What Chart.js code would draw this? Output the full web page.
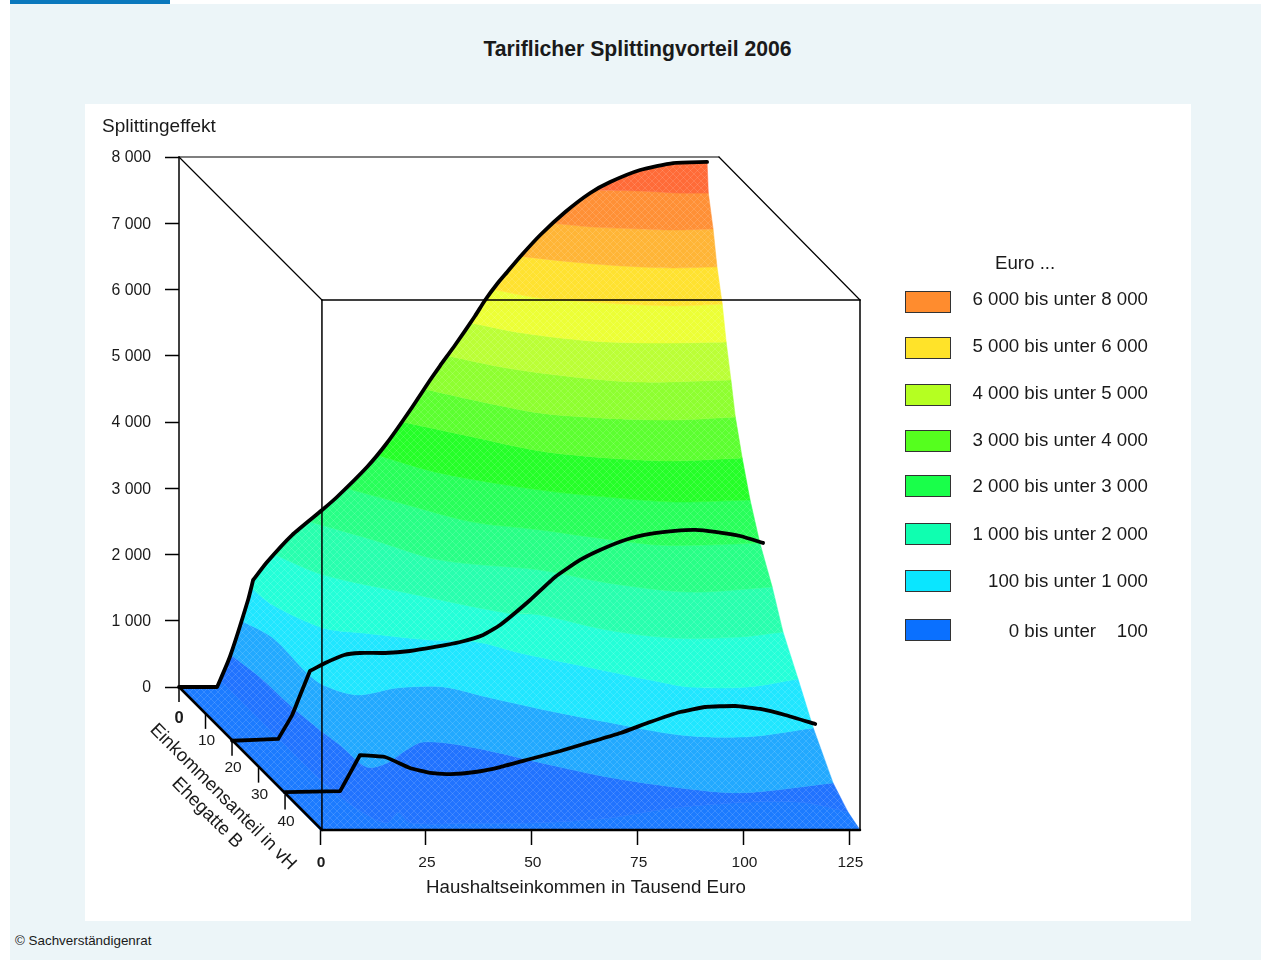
<!DOCTYPE html>
<html lang="de">
<head>
<meta charset="utf-8">
<title>Tariflicher Splittingvorteil 2006</title>
<script src="https://cdn.jsdelivr.net/npm/chart.js@4"></script>
<style>
    html, body { margin: 0; padding: 0; background: #fff; }
    body { width: 1261px; height: 960px; position: relative; overflow: hidden; font-family: "Liberation Sans", Arial, sans-serif; color: #1a1a1a; }
    #strip { position: absolute; left: 10px; top: 0; width: 160px; height: 4px; background: #0a78bd; }
    #panel { position: absolute; left: 10px; top: 4px; right: 0; bottom: 0; background: #ecf5f8; }
    #white { position: absolute; left: 85px; top: 104px; width: 1106px; height: 817px; background: #fff; }
    #chart { position: absolute; left: 85px; top: 104px; }
    #title { position: absolute; left: 10px; width: 1255px; top: 36px; text-align: center; font-size: 21.2px; font-weight: bold; line-height: 26px; }
    #source { position: absolute; left: 15px; top: 933px; font-size: 13.4px; line-height: 16px; }
    #euro { position: absolute; left: 995px; top: 252px; font-size: 18.7px; line-height: 22px; }
    .swatch { position: absolute; left: 905px; width: 44px; height: 20px; border: 1px solid #333; }
    .entry { position: absolute; right: 113px; font-size: 18.7px; line-height: 22px; white-space: pre; }
</style>
</head>
<body>
<div id="strip"></div>
<div id="panel"></div>
<div id="white"></div>
<canvas id="chart" width="1106" height="817"></canvas>
<div id="title">Tariflicher Splittingvorteil 2006</div>
<div id="source">© Sachverständigenrat</div>
<div id="euro">Euro ...</div>
<script>
// Axis ticks
const incomeTicks = [0, 25, 50, 75, 100, 125];
const shareTicks = [0, 10, 20, 30, 40];
const effectTicks = [0, 1000, 2000, 3000, 4000, 5000, 6000, 7000, 8000];

// Legend
const legendLabels = ['6 000 bis unter 8 000', '5 000 bis unter 6 000', '4 000 bis unter 5 000', '3 000 bis unter 4 000',
    '2 000 bis unter 3 000', '1 000 bis unter 2 000', '100 bis unter 1 000', '0 bis unter    100'];
const legendColors = ['#ff8c2e', '#ffe329', '#b5ff21', '#55ff1e', '#19ff4a', '#0fffb0', '#0ae6ff', '#0a70ff'];
const legendSwatchY = [302, 348, 395, 441, 486, 534, 581, 630];
const legendTextY = [299, 346, 393, 440, 486, 534, 581, 631];

// Black profile lines: share of spouse B 0, 20 and 40 vH
const profile0Income = [0, 9, 12, 16.3, 17.5, 20.8, 26.7, 33.8, 37.3, 44.4, 49.1, 54.6, 59.3, 61.6, 65.2, 69.9, 72.3, 75.1, 77.5, 80.5, 85.3, 91.2, 97.1, 101.8, 108.9, 116.7, 124.7];
const profile0Effect = [0, 0, 453, 1313, 1615, 1887, 2294, 2672, 2868, 3321, 3683, 4181, 4634, 4845, 5162, 5600, 5842, 6083, 6264, 6491, 6823, 7170, 7457, 7623, 7804, 7909, 7925];
const profile0Kinks = [1, 4];
const profile20Income = [0, 10.9, 14.2, 16.1, 18.4, 22, 26.5, 30.2, 36.1, 42, 47.9, 53.9, 59.3, 63.3, 70.4, 76.3, 82.2, 86.9, 92.8, 98.7, 104.6, 109.4, 114.1, 120, 125.4];
const profile20Effect = [0, 27, 389, 691, 1054, 1174, 1295, 1325, 1325, 1355, 1416, 1491, 1597, 1748, 2125, 2472, 2729, 2880, 3031, 3122, 3167, 3182, 3152, 3091, 2986];
const profile20Kinks = [1, 4];
const profile40Income = [0, 13, 17.7, 23.6, 29.5, 34.3, 39, 44.9, 50.8, 57.9, 65, 72.1, 79.2, 86.2, 93.3, 99.2, 106.3, 112.2, 118.1, 125.2];
const profile40Effect = [35, 50, 596, 566, 400, 325, 309, 340, 415, 536, 657, 792, 928, 1094, 1245, 1321, 1336, 1291, 1200, 1064];
const profile40Kinks = [1, 2];

// Contour lines of the surface: [income, share] where the effect equals the level
const contour100 = [[9.8, 0], [10, 20], [10.5, 40], [13, 50], [16, 53], [21, 49], [21.4, 53], [35.5, 53.2], [52, 53], [69.5, 51.2], [86.9, 47.5], [108.2, 45.2], [119.8, 45.6], [127.3, 49]];
const contour500 = [[12, 0], [13.7, 8.6], [14.3, 19], [15.6, 28.3], [16.8, 33.9], [18, 42.1], [23.7, 40.6], [30.1, 36.5], [37.1, 32.8], [47.1, 34.6], [63.6, 42.1], [72.4, 45.8], [85.7, 49.5], [100.1, 51.7], [124.4, 48]];
const contour1000 = [[14.8, 0], [18.2, 6.4], [18.1, 19.4], [19.1, 23.9], [24.8, 27.6], [35.8, 25], [47, 24.6], [55, 28.4], [64.7, 32.8], [77.5, 37.7], [91.7, 42.5], [107.1, 43.2], [124.8, 39.9]];
const contour1500 = [[17, 0], [18.1, 6.5], [24.6, 15], [32.9, 16.9], [47.1, 19.5], [57.7, 20.2], [65.3, 24.3], [77.9, 29.5], [91.6, 35.1], [97.5, 37], [111, 37], [124.9, 34]];
const contour2000 = [[22.5, 0], [29.3, 7.6], [44.9, 14.3], [63.8, 21.8], [71.2, 22.5], [83.5, 28.1], [97.2, 31.1], [113.3, 30.7], [124.6, 28.8]];
const contour2500 = [[30.6, 0], [41.5, 6.9], [52.6, 14.4], [73.9, 18.1], [86.8, 22.9], [104.2, 26.3], [124.8, 24.4]];
const contour3000 = [[39.5, 0], [50, 6.2], [61.5, 12.6], [75.6, 15.5], [85.7, 18.1], [99.7, 21.1], [111.5, 21.1], [124.4, 20.4]];
const contour3500 = [[46.8, 0], [57.4, 6.7], [77.1, 13], [91.3, 15.6], [105.8, 17.4], [124.4, 16.7]];
const contour4000 = [[52.9, 0], [65.9, 5.6], [78.5, 10.8], [92.7, 13.4], [107.6, 14.5], [124.6, 13.4]];
const contour4500 = [[57.9, 0], [66.9, 4.1], [79.6, 9], [92.7, 10.8], [109.4, 11.6], [124.8, 10.5]];
const contour5000 = [[63.3, 0], [74.6, 4.6], [88.1, 7.9], [102.7, 9.8], [124.7, 9]];
const contour5500 = [[68.7, 0], [78.8, 3.9], [92.8, 6.8], [108.1, 7.6], [124.7, 7.2]];
const contour6000 = [[74.2, 0], [83.3, 3.2], [97.9, 5], [112.8, 6.1], [124.9, 5.4]];
const contour6500 = [[80.8, 0], [91.7, 2.1], [102.6, 3.6], [114, 4.3], [124.6, 3.9]];
const contour7000 = [[88.3, 0], [96.9, 1.4], [107.5, 2.1], [115.1, 2.5], [124.8, 2.1]];
const contour7500 = [[98.2, 0], [108.7, 0.3], [117.6, 1.1], [124.3, 1.1]];

const bandLevels = [100, 500, 1000, 1500, 2000, 2500, 3000, 3500, 4000, 4500, 5000, 5500, 6000, 6500, 7000, 7500];
const bandContours = [contour100, contour500, contour1000, contour1500, contour2000, contour2500, contour3000, contour3500,
    contour4000, contour4500, contour5000, contour5500, contour6000, contour6500, contour7000, contour7500];
const bandColors = ['#1c7bff', '#2173ff', '#22a9ff', '#20e6ff', '#24ffd8', '#28ffae', '#28ff86', '#28ff5a', '#25ff28',
    '#5cff30', '#8eff30', '#bbff36', '#ecff36', '#ffe230', '#ffb536', '#ff9036', '#ff6b38'];

// Oblique projection of the box: income runs right, share runs down to the right
const SHARE_MAX = 53.2;
const INCOME_MAX = 127.5;
const EFFECT_MAX = 8000;
const SHEAR_X = 0.626;
const SHEAR_Y = 40.57;
const FRONT_LEFT_INCOME = 0.45; // front edge of the box sits just right of the 0 tick

function project(income, share, effect) {
    return { x: income - (SHARE_MAX - share) * SHEAR_X, y: effect - share * SHEAR_Y };
}

const TEXT_COLOR = '#1a1a1a';
const FONT = '"Liberation Sans", Arial, sans-serif';

function formatThousands(v) {
    return String(v).replace(/\B(?=(\d{3})+$)/g, ' ');
}

function lineDataset(points, width, tension) {
    return { data: points, showLine: true, borderColor: '#000', borderWidth: width, pointRadius: 0, tension: tension, fill: false, clip: false, borderCapStyle: 'round', borderJoinStyle: 'round' };
}

// Kink points appear twice so the spline keeps a sharp corner there
function profilePoints(share, incomes, effects, kinks) {
    const pts = [];
    incomes.forEach((inc, i) => {
        pts.push(project(inc, share, effects[i]));
        if (kinks.includes(i)) pts.push(project(inc, share, effects[i]));
    });
    return pts;
}

// Faint cross lines stand in for the mesh of the surface
function meshPattern(color) {
    const tile = document.createElement('canvas');
    tile.width = 7;
    tile.height = 7;
    const c = tile.getContext('2d');
    c.fillStyle = color;
    c.fillRect(0, 0, 7, 7);
    c.strokeStyle = 'rgba(255,255,255,0.13)';
    c.lineWidth = 1;
    c.beginPath();
    c.moveTo(0, 0);
    c.lineTo(7, 7);
    c.moveTo(7, 0);
    c.lineTo(0, 7);
    c.stroke();
    return c.createPattern(tile, 'repeat');
}

// Points of the share 0 profile between two effect levels, walked downwards: the band's left edge
function leftEdge(low, high) {
    const pts = [];
    for (let i = profile0Income.length - 1; i >= 0; i--) {
        if (profile0Effect[i] > low && profile0Effect[i] < high) pts.push(project(profile0Income[i], 0, profile0Effect[i]));
    }
    return pts;
}

function bandDataset(lower, upper, edge, color) {
    const top = upper.slice().reverse();
    const pts = [...lower, lower[lower.length - 1], top[0], ...top, upper[0], ...edge, lower[0]];
    return { data: pts, showLine: true, borderColor: color, borderWidth: 0.5, backgroundColor: meshPattern(color), fill: 'shape', pointRadius: 0, tension: 0.3, clip: false };
}

function buildBands() {
    const sets = [];
    const rows = bandContours.map((c, i) => c.map(p => project(p[0], p[1], bandLevels[i])));
    const base = [project(0, 0, 0), project(0, 0, 0), project(0, SHARE_MAX, 0), project(0, SHARE_MAX, 0), project(INCOME_MAX, SHARE_MAX, 0)];
    sets.push(bandDataset(base, rows[0], leftEdge(-1, bandLevels[0]), bandColors[0]));
    for (let i = 0; i < rows.length - 1; i++) {
        sets.push(bandDataset(rows[i], rows[i + 1], leftEdge(bandLevels[i], bandLevels[i + 1]), bandColors[i + 1]));
    }
    const crest = [];
    profile0Income.forEach((inc, i) => { if (profile0Effect[i] > 7500) crest.push(project(inc, 0, profile0Effect[i])); });
    sets.push(bandDataset(rows[rows.length - 1], crest, [], bandColors[bandColors.length - 1]));
    return sets;
}

function buildBox() {
    const backLow = project(0, 0, 0);
    const backHigh = project(0, 0, EFFECT_MAX);
    const backRight = project(INCOME_MAX, 0, EFFECT_MAX);
    const frontHigh = project(FRONT_LEFT_INCOME, SHARE_MAX, EFFECT_MAX);
    const frontLow = project(FRONT_LEFT_INCOME, SHARE_MAX, 0);
    const rightHigh = project(INCOME_MAX, SHARE_MAX, EFFECT_MAX);
    const rightLow = project(INCOME_MAX, SHARE_MAX, 0);
    return [
        lineDataset([backLow, backHigh], 1.5, 0),
        lineDataset([backHigh, backRight], 1.2, 0),
        lineDataset([backHigh, frontHigh], 1.2, 0),
        lineDataset([backRight, rightHigh], 1.2, 0),
        lineDataset([frontHigh, rightHigh], 1.5, 0),
        lineDataset([frontHigh, frontLow], 1.5, 0),
        lineDataset([rightHigh, rightLow], 1.5, 0),
        lineDataset([frontLow, rightLow], 2.5, 0),
        lineDataset([backLow, frontLow], 2.5, 0)
    ];
}

// Share axis along the diagonal plus the axis titles Chart.js cannot place
const axisTextPlugin = {
    id: 'axisText',
    afterDraw(chart) {
        const { ctx, scales } = chart;
        const left = chart.canvas.getBoundingClientRect().left;
        const top = chart.canvas.getBoundingClientRect().top;
        ctx.save();
        ctx.fillStyle = TEXT_COLOR;
        ctx.textAlign = 'center';
        ctx.textBaseline = 'middle';
        ctx.strokeStyle = '#000';
        ctx.lineWidth = 1.5;
        shareTicks.forEach(s => {
            const p = project(0, s, 0);
            const px = scales.x.getPixelForValue(p.x);
            const py = scales.y.getPixelForValue(p.y);
            ctx.beginPath();
            ctx.moveTo(px, py);
            ctx.lineTo(px, py + 15);
            ctx.stroke();
            ctx.font = (s === 0 ? 'bold 16.5px ' : '15.5px ') + FONT;
            ctx.fillText(String(s), px + (s === 0 ? 0 : 1), py + (s === 0 ? 31 : 27));
        });
        ctx.font = '18.7px ' + FONT;
        ctx.fillText('Haushaltseinkommen in Tausend Euro', 586 - left, 888 - top);
        ctx.textAlign = 'left';
        ctx.font = '19px ' + FONT;
        ctx.fillText('Splittingeffekt', 102 - left, 127 - top);
        ctx.textAlign = 'center';
        ctx.font = '18.5px ' + FONT;
        [['Einkommensanteil in vH', 223, 797], ['Ehegatte B', 207, 813]].forEach(([text, x, y]) => {
            ctx.save();
            ctx.translate(x - left, y - top);
            ctx.rotate(Math.PI / 4);
            ctx.fillText(text, 0, 0);
            ctx.restore();
        });
        ctx.restore();
    }
};

const datasets = [
    lineDataset(profilePoints(0, profile0Income, profile0Effect, profile0Kinks), 3.8, 0.2),
    lineDataset(profilePoints(20, profile20Income, profile20Effect, profile20Kinks), 3.8, 0.15),
    lineDataset(profilePoints(40, profile40Income, profile40Effect, profile40Kinks), 3.8, 0.15),
    ...buildBox(),
    ...buildBands().reverse()
];

new Chart(document.getElementById('chart'), {
    type: 'scatter',
    data: { datasets },
    plugins: [axisTextPlugin],
    options: {
        responsive: false,
        devicePixelRatio: 1,
        animation: false,
        layout: { padding: { top: 53, right: 331, left: 0, bottom: 0 } },
        plugins: { legend: { display: false }, tooltip: { enabled: false } },
        scales: {
            x: {
                type: 'linear',
                min: -SHARE_MAX * SHEAR_X,
                max: INCOME_MAX,
                border: { display: false },
                grid: { drawOnChartArea: false, tickLength: 15, tickWidth: 1.5, tickColor: '#000' },
                ticks: {
                    color: TEXT_COLOR,
                    padding: 8,
                    labelOffset: 1,
                    maxRotation: 0,
                    autoSkip: false,
                    font: ctx => ({ family: FONT, size: 15.5, weight: ctx.tick && ctx.tick.value === 0 ? 'bold' : 'normal' }),
                    callback: v => String(v)
                },
                afterBuildTicks: scale => { scale.ticks = incomeTicks.map(value => ({ value })); },
                afterFit: scale => { scale.height = 91; }
            },
            y: {
                type: 'linear',
                min: -SHARE_MAX * SHEAR_Y,
                max: EFFECT_MAX,
                border: { display: false },
                grid: { drawOnChartArea: false, tickLength: 14, tickWidth: 1.5, tickColor: '#000' },
                ticks: {
                    color: TEXT_COLOR,
                    padding: 14,
                    labelOffset: 1,
                    autoSkip: false,
                    font: { family: FONT, size: 15.8 },
                    callback: v => formatThousands(v)
                },
                afterBuildTicks: scale => { scale.ticks = effectTicks.map(value => ({ value })); },
                afterFit: scale => { scale.width = 94; }
            }
        }
    }
});

// Legend rows
legendLabels.forEach((label, i) => {
    const swatch = document.createElement('div');
    swatch.className = 'swatch';
    swatch.style.top = (legendSwatchY[i] - 11) + 'px';
    swatch.style.background = legendColors[i];
    document.body.appendChild(swatch);
    const entry = document.createElement('div');
    entry.className = 'entry';
    entry.style.top = (legendTextY[i] - 11) + 'px';
    entry.textContent = label;
    document.body.appendChild(entry);
});
</script>
</body>
</html>
